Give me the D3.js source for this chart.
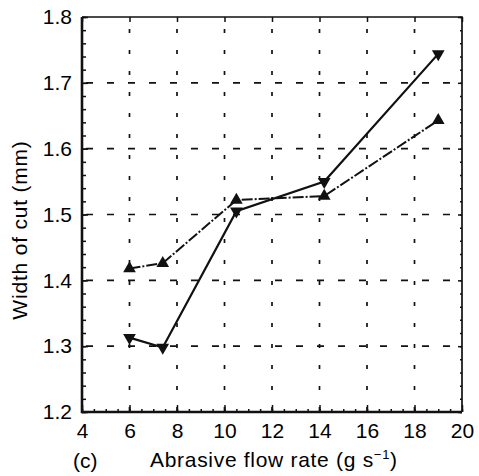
<!DOCTYPE html>
<html>
<head>
<meta charset="utf-8">
<script src="https://cdn.jsdelivr.net/npm/d3@7/dist/d3.min.js"></script>
<style>
  html, body { margin: 0; padding: 0; background: #fff; }
  svg { display: block; }
  text { font-family: "Liberation Sans", Arial, Helvetica, sans-serif; fill: #000; }
</style>
</head>
<body>
<svg id="chart" width="479" height="476"></svg>
<script>
// Abrasive flow rate (g/s) at each measurement
const flowRate = [6, 7.4, 10.5, 14.2, 19];
// Width of cut (mm), down-triangle series (solid line)
const widthDown = [1.313, 1.298, 1.505, 1.550, 1.744];
// Width of cut (mm), up-triangle series (dashed line)
const widthUp = [1.418, 1.426, 1.522, 1.528, 1.643];

const xTicks = [4, 6, 8, 10, 12, 14, 16, 18, 20];
const yTicks = [1.2, 1.3, 1.4, 1.5, 1.6, 1.7, 1.8];
const xMinor = d3.range(4, 20.01, 0.5);
const yMinor = d3.range(1.2, 1.8001, 0.02);

const svg = d3.select("#chart");
const plotL = 82, plotR = 462, plotT = 17, plotB = 412;
const fontSize = 21;

const x = d3.scaleLinear().domain([4, 20]).range([plotL, plotR]);
const y = d3.scaleLinear().domain([1.2, 1.8]).range([plotB, plotT]);

// dashed grid at major ticks
const g = svg.append("g");
g.selectAll(".vg").data(xTicks.slice(1, -1)).join("line")
  .attr("x1", d => x(d)).attr("x2", d => x(d))
  .attr("y1", plotT).attr("y2", plotB)
  .attr("stroke", "#111").attr("stroke-width", 1.7)
  .attr("stroke-dasharray", "4,17").attr("stroke-dashoffset", -12);
g.selectAll(".hg").data(yTicks.slice(1, -1)).join("line")
  .attr("x1", plotL).attr("x2", plotR)
  .attr("y1", d => y(d)).attr("y2", d => y(d))
  .attr("stroke", "#111").attr("stroke-width", 1.7)
  .attr("stroke-dasharray", "7,14").attr("stroke-dashoffset", -4);

// axes with inward ticks
const axisStyle = sel => {
  sel.select(".domain").remove();
  sel.selectAll(".tick line").attr("stroke", "#111").attr("stroke-width", 1.5);
};
svg.append("g").attr("transform", `translate(0,${plotB})`)
  .call(d3.axisBottom(x).tickValues(xMinor).tickSize(-3).tickFormat(""))
  .call(axisStyle);
svg.append("g").attr("transform", `translate(0,${plotB})`)
  .call(d3.axisBottom(x).tickValues(xTicks).tickSize(-7).tickPadding(11).tickFormat(d3.format("d")))
  .call(axisStyle)
  .call(s => s.selectAll("text").attr("font-size", fontSize).attr("fill", "#000"));
svg.append("g").attr("transform", `translate(0,${plotT})`)
  .call(d3.axisTop(x).tickValues(xTicks).tickSize(-5).tickFormat(""))
  .call(axisStyle);

svg.append("g").attr("transform", `translate(${plotL},0)`)
  .call(d3.axisLeft(y).tickValues(yMinor).tickSize(-4).tickFormat(""))
  .call(axisStyle);
svg.append("g").attr("transform", `translate(${plotL},0)`)
  .call(d3.axisLeft(y).tickValues(yTicks).tickSize(-6).tickPadding(10).tickFormat(d3.format(".1f")))
  .call(axisStyle)
  .call(s => s.selectAll("text").attr("font-size", fontSize).attr("fill", "#000"));
svg.append("g").attr("transform", `translate(${plotR},0)`)
  .call(d3.axisRight(y).tickValues(yMinor).tickSize(-2).tickFormat(""))
  .call(axisStyle);
svg.append("g").attr("transform", `translate(${plotR},0)`)
  .call(d3.axisRight(y).tickValues(yTicks).tickSize(-4).tickFormat(""))
  .call(axisStyle);

// frame
svg.append("path")
  .attr("d", `M${plotL},${plotT}H${plotR}V${plotB}`)
  .attr("fill", "none").attr("stroke", "#111").attr("stroke-width", 1.7);
svg.append("path")
  .attr("d", `M${plotL},${plotT}V${plotB}H${plotR}`)
  .attr("fill", "none").attr("stroke", "#111").attr("stroke-width", 2.6);

// series lines
const line = d3.line().x(d => x(d[0])).y(d => y(d[1]));
const downPts = flowRate.map((f, i) => [f, widthDown[i]]);
const upPts = flowRate.map((f, i) => [f, widthUp[i]]);

svg.append("path").datum(upPts).attr("d", line)
  .attr("fill", "none").attr("stroke", "#111").attr("stroke-width", 2)
  .attr("stroke-dasharray", "11,2,2,2");
svg.append("path").datum(downPts).attr("d", line)
  .attr("fill", "none").attr("stroke", "#111").attr("stroke-width", 2.2);

// markers
const tri = d3.symbol().type(d3.symbolTriangle).size(70);
svg.append("g").selectAll("path").data(upPts).join("path")
  .attr("d", tri)
  .attr("transform", d => `translate(${x(d[0])},${y(d[1])})`)
  .attr("fill", "#111");
svg.append("g").selectAll("path").data(downPts).join("path")
  .attr("d", tri)
  .attr("transform", d => `translate(${x(d[0])},${y(d[1])}) rotate(180)`)
  .attr("fill", "#111");

// axis titles
svg.append("text")
  .attr("transform", `translate(27,230) rotate(-90)`)
  .attr("text-anchor", "middle").attr("font-size", fontSize)
  .attr("letter-spacing", 0.8)
  .text("Width of cut (mm)");

svg.append("text").attr("x", 73).attr("y", 468).attr("font-size", fontSize).text("(c)");
const xt = svg.append("text").attr("x", 150).attr("y", 467)
  .attr("font-size", fontSize).attr("letter-spacing", 0.7);
xt.append("tspan").text("Abrasive flow rate (g s");
xt.append("tspan").attr("dy", -8).attr("font-size", 13).text("\u22121");
xt.append("tspan").attr("dy", 8).text(")");
</script>
</body>
</html>
